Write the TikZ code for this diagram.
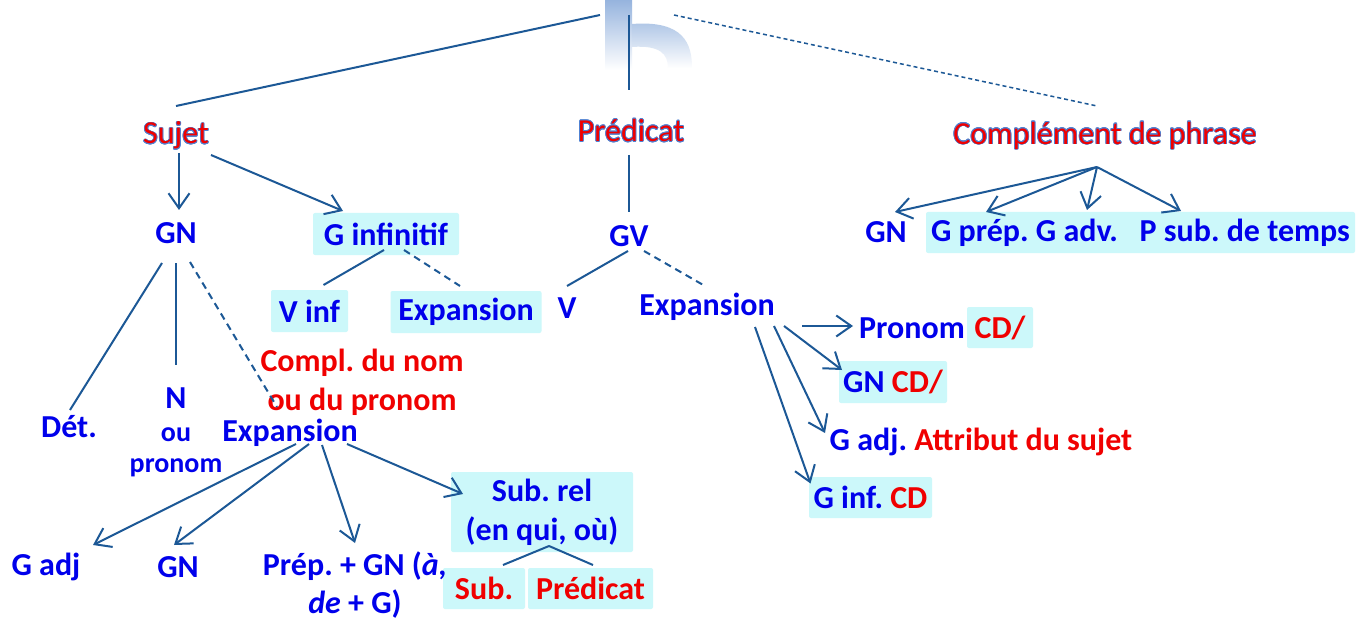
\documentclass[tikz,border=0pt]{standalone}
\usepackage{fontspec}
\setmainfont{Carlito}
\usepackage{contour}
\contourlength{0.7pt}
\usetikzlibrary{arrows.meta,calc}
\definecolor{lc}{RGB}{28,88,150}
\definecolor{tb}{RGB}{0,0,235}
\definecolor{tr}{RGB}{240,0,0}
\definecolor{bx}{RGB}{204,248,250}
\definecolor{outl}{RGB}{80,130,210}
\definecolor{wm}{RGB}{150,180,222}
\frenchspacing
\begin{document}
\begin{tikzpicture}[x=1pt,y=-1pt,
  lab/.style={text=tb,font=\bfseries\fontsize{32}{39}\selectfont,inner sep=0pt,align=center},
  smalllab/.style={lab,font=\bfseries\fontsize{28}{34}\selectfont},
  redlab/.style={lab,text=tr},
  hdr/.style={font=\fontsize{32}{38}\selectfont,text=tr,inner sep=0pt},
  bxn/.style={lab,fill=bx,rounded corners=2pt},
  ln/.style={draw=lc,line width=2pt},
  ar/.style={ln,-{Straight Barb[length=15pt,width=21pt]}},
  dsh/.style={ln,dash pattern=on 7pt off 5pt},
  fdsh/.style={ln,line width=1.5pt,dash pattern=on 4pt off 3pt},
]
\useasboundingbox (0,0) rectangle (1364,620);
\fill[white] (0,0) rectangle (1364,620);
% watermark
\shade[top color=wm, bottom color=white] (605,0) rectangle (632,70);
\shade[top color=wm!80, bottom color=white] (632,24) .. controls (684,20) and (692,44) .. (692,68) -- (668,68) .. controls (668,54) and (660,45) .. (632,47) -- cycle;

% headers
\node[hdr] (sujet) at (176,136) {\contour{outl}{Sujet}};
\node[hdr] (pred) at (631,131) {\contour{outl}{Prédicat}};
\node[hdr] (cphr) at (1105,136) {\contour{outl}{Complément de phrase}};
\coordinate (tL) at (600,15);
\coordinate (tC) at (629,15);
\coordinate (tR) at (674,15);

% level 2
\node[lab] (gn) at (176,233) {GN};
\node[bxn,minimum width=146pt,minimum height=42pt] (ginf) at (386,234) {G infinitif};
\node[lab] (gv) at (629,236) {GV};
\node[bxn,minimum width=77pt,minimum height=42pt] (vinf) at (309.5,311) {V inf};
\node[bxn,minimum width=151pt,minimum height=42pt] (expi) at (466,312) {Expansion};
\node[lab] (v) at (567,308) {V};
\node[lab] (expp) at (707,307) {Expansion};

% GN subtree
\node[redlab] (compl) at (362,382) {Compl. du nom\\ou du pronom};
\node[lab] (det) at (69,427) {Dét.};
\node[lab] (n1) at (176,398) {N};
\node[smalllab] (n2) at (176,435) {ou};
\node[smalllab] (n3) at (176,468) {pronom};
\node[lab] (expg) at (290,433) {Expansion};
\node[lab] (gadj) at (46,567) {G adj};
\node[lab] (gn2) at (178,567) {GN};
\node[bxn,minimum width=182pt,minimum height=80pt] (subrel) at (542,512) {Sub. rel\\(en qui, où)};
\node[bxn,text=tr,minimum width=82pt,minimum height=41pt] (subb) at (484,588.5) {Sub.};
\node[bxn,text=tr,minimum width=125pt,minimum height=41pt] (predb) at (590.5,588.5) {Prédicat};
\node[lab,font=\bfseries\fontsize{32}{38}\selectfont] (prep) at (355,585) {Prép. + GN (\textit{à,}\\\textit{de} + G)};

% complement de phrase
\node[lab] (cgn) at (886,232) {GN};
\node[bxn,minimum width=429pt,minimum height=41pt] (cbox) at (1140.5,232.5) {G prép.\ G adv.\ \ \ P sub. de temps};

% predicate expansion
\node[lab] (pronom) at (912,328) {Pronom};
\node[bxn,text=tr,minimum width=66pt,minimum height=41pt] (cd1) at (1000,327.5) {CD/};
\node[bxn,minimum width=108pt,minimum height=42pt] (gncd) at (893,382) {GN \textcolor{tr}{CD/}};
\node[lab] (gadjat) at (981,442) {G adj. \textcolor{tr}{Attribut du sujet}};
\node[bxn,minimum width=123pt,minimum height=41pt] (ginfcd) at (870.5,497.5) {G inf. \textcolor{tr}{CD}};

% connectors: top
\draw[ln] (tL) -- ($(sujet)+(0,-30)$);
\draw[ln] (tC) -- ($(pred)+(-2,-41)$);
\draw[fdsh] (tR) -- ($(cphr)+(-8,-30)$);

\draw[ar] ($(sujet)+(3,17)$) -- ($(gn)+(3,-23)$);
\draw[ar] ($(sujet)+(35,19)$) -- ($(ginf)+(-43,-23)$);
\draw[ln] ($(pred)+(-2,24)$) -- ($(gv)+(0,-24)$);

\draw[ln] ($(gn)+(-14,30)$) -- ($(det)+(1,-17)$);
\draw[ln] ($(gn)+(0,30)$) -- ($(n1)+(0,-33)$);
\draw[dsh] ($(gn)+(14,29)$) -- ($(expg)+(-13,-26)$);

\draw[ln] ($(ginf)+(-2,16)$) -- ($(vinf)+(14,-26)$);
\draw[dsh] ($(ginf)+(18,16)$) -- ($(expi)+(-6,-26)$);
\draw[ln] ($(gv)+(-1,15)$) -- ($(v)+(0,-22)$);
\draw[dsh] ($(gv)+(15,15)$) -- ($(expp)+(-2,-21)$);

\draw[ar] ($(expp)+(95,19)$) -- ($(pronom)+(-59,-2)$);
\draw[ar] ($(expp)+(77,19)$) -- ($(gncd)+(-51,-12)$);
\draw[ar] ($(expp)+(67,19)$) -- ($(gadjat)+(-156,-9)$);
\draw[ar] ($(expp)+(48,20)$) -- ($(ginfcd)+(-60,-14)$);

\draw[ar] ($(expg)+(6,11)$) -- ($(gadj)+(47,-22)$);
\draw[ar] ($(expg)+(19,11)$) -- ($(gn2)+(-4,-22)$);
\draw[ar] ($(expg)+(32,12)$) -- ($(prep)+(0,-42)$);
\draw[ar] ($(expg)+(57,11)$) -- ($(subrel)+(-79,-18)$);
\draw[ln] ($(subrel)+(7,34)$) -- ($(subb)+(19,-23.5)$);
\draw[ln] ($(subrel)+(7,34)$) -- ($(predb)+(2.5,-23.5)$);

\draw[ar] ($(cphr)+(-8,31)$) -- ($(cgn)+(9,-20)$);
\draw[ar] ($(cphr)+(-8,31)$) -- ($(cbox)+(-154.5,-20.5)$);
\draw[ar] ($(cphr)+(-8,31)$) -- ($(cbox)+(-53.5,-22.5)$);
\draw[ar] ($(cphr)+(-8,31)$) -- ($(cbox)+(40.5,-21.5)$);
\end{tikzpicture}
\end{document}
